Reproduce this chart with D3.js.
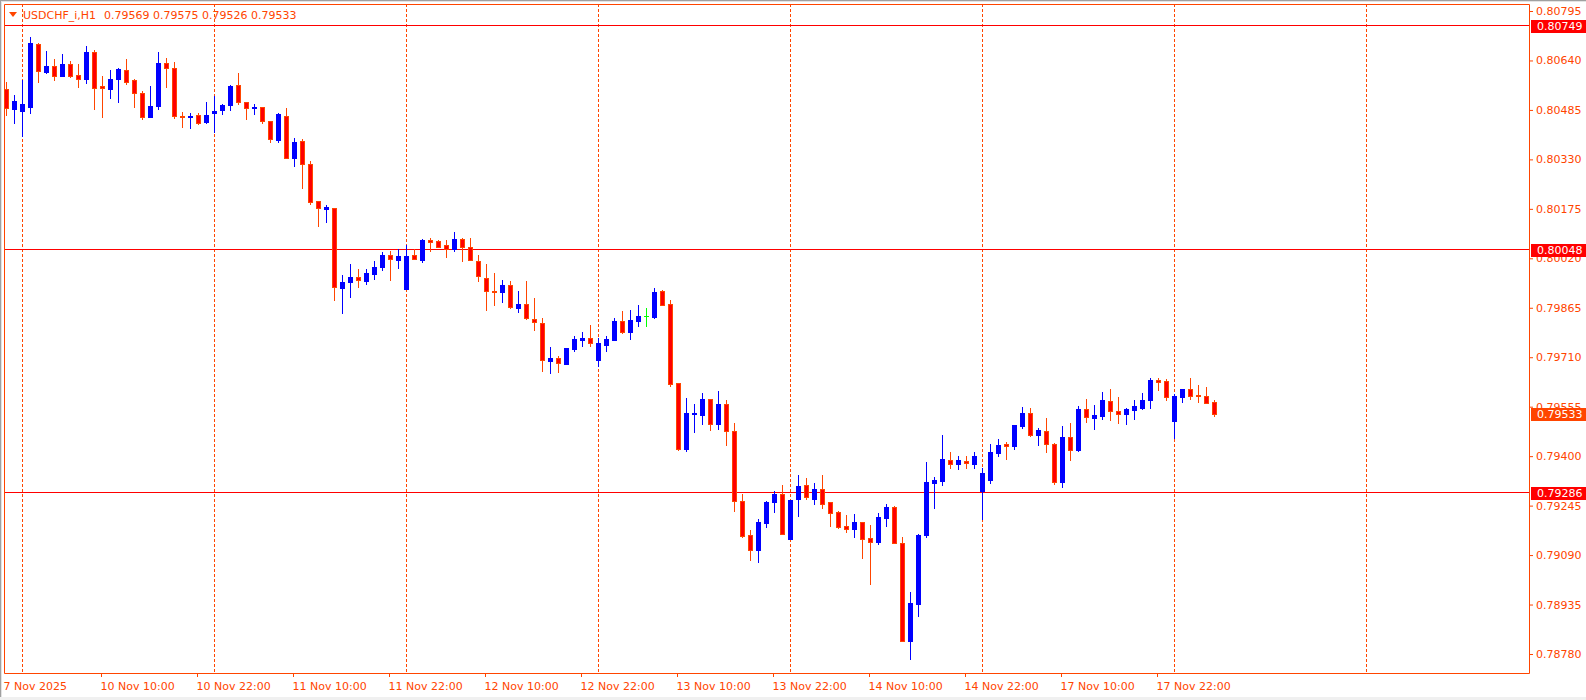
<!DOCTYPE html>
<html><head><meta charset="utf-8">
<script src="https://cdn.jsdelivr.net/npm/d3@7"></script>
<style>html,body{margin:0;padding:0;background:#fff;overflow:hidden}</style>
</head><body><svg id="c" width="1586" height="700"></svg>
<script>
// ---- data ----
const symbolLabel = "USDCHF_i,H1";
const lastOHLC = ["0.79569", "0.79575", "0.79526", "0.79533"];
// trading sessions (day label, first hour, last hour) – hourly bars
const sessions = [["7 Nov",22,23],["10 Nov",0,23],["11 Nov",0,23],["12 Nov",0,23],["13 Nov",0,23],["14 Nov",0,23],["17 Nov",0,23],["18 Nov",0,23],["19 Nov",0,23]];
const openV = [0.80550,0.80489,0.80483,0.80495,0.80692,0.80604,0.80623,0.80592,0.80629,0.80594,0.80583,0.80667,0.80560,0.80552,0.80583,0.80610,0.80579,0.80538,0.80464,0.80498,0.80632,0.80616,0.80466,0.80463,0.80468,0.80448,0.80476,0.80486,0.80501,0.80562,0.80509,0.80491,0.80493,0.80449,0.80391,0.80466,0.80333,0.80388,0.80316,0.80200,0.80175,0.80177,0.79926,0.79947,0.79961,0.79950,0.79972,0.79994,0.80030,0.80016,0.79925,0.80030,0.80015,0.80077,0.80074,0.80061,0.80049,0.80080,0.80054,0.80011,0.79957,0.79918,0.79913,0.79935,0.79865,0.79876,0.79829,0.79817,0.79699,0.79708,0.79690,0.79737,0.79764,0.79769,0.79701,0.79749,0.79764,0.79824,0.79789,0.79824,0.79839,0.79836,0.79918,0.79877,0.79628,0.79423,0.79532,0.79530,0.79579,0.79502,0.79563,0.79478,0.79258,0.79152,0.79107,0.79190,0.79256,0.79282,0.79141,0.79267,0.79309,0.79267,0.79297,0.79255,0.79225,0.79180,0.79173,0.79194,0.79143,0.79131,0.79207,0.79241,0.79127,0.78822,0.78938,0.79153,0.79317,0.79323,0.79387,0.79375,0.79384,0.79376,0.79292,0.79325,0.79411,0.79438,0.79433,0.79495,0.79535,0.79466,0.79479,0.79438,0.79319,0.79461,0.79419,0.79548,0.79520,0.79527,0.79573,0.79541,0.79532,0.79546,0.79551,0.79576,0.79639,0.79636,0.79510,0.79585,0.79610,0.79592,0.79588,0.79569];
const highV = [0.80573,0.80532,0.80579,0.80714,0.80694,0.80670,0.80645,0.80660,0.80637,0.80629,0.80685,0.80673,0.80591,0.80610,0.80617,0.80645,0.80582,0.80544,0.80561,0.80667,0.80648,0.80635,0.80479,0.80474,0.80474,0.80510,0.80530,0.80504,0.80563,0.80601,0.80509,0.80504,0.80493,0.80449,0.80475,0.80491,0.80397,0.80394,0.80325,0.80200,0.80187,0.80177,0.79968,0.80002,0.79987,0.79987,0.80012,0.80040,0.80043,0.80048,0.80061,0.80048,0.80080,0.80085,0.80077,0.80077,0.80102,0.80084,0.80084,0.80030,0.80002,0.79974,0.79952,0.79949,0.79918,0.79949,0.79896,0.79834,0.79742,0.79714,0.79739,0.79777,0.79789,0.79811,0.79770,0.79777,0.79833,0.79855,0.79858,0.79874,0.79864,0.79927,0.79921,0.79889,0.79628,0.79582,0.79563,0.79598,0.79579,0.79603,0.79575,0.79504,0.79282,0.79170,0.79203,0.79258,0.79290,0.79311,0.79263,0.79341,0.79332,0.79316,0.79341,0.79255,0.79229,0.79217,0.79220,0.79194,0.79184,0.79222,0.79250,0.79244,0.79147,0.78974,0.79155,0.79382,0.79335,0.79466,0.79413,0.79401,0.79401,0.79413,0.79364,0.79438,0.79454,0.79444,0.79498,0.79554,0.79551,0.79488,0.79520,0.79440,0.79495,0.79504,0.79557,0.79579,0.79560,0.79601,0.79610,0.79585,0.79551,0.79576,0.79598,0.79645,0.79645,0.79642,0.79595,0.79610,0.79645,0.79623,0.79617,0.79575];
const lowV = [0.80469,0.80445,0.80403,0.80474,0.80573,0.80602,0.80580,0.80592,0.80589,0.80558,0.80570,0.80488,0.80464,0.80523,0.80511,0.80566,0.80495,0.80456,0.80464,0.80487,0.80558,0.80461,0.80431,0.80429,0.80442,0.80445,0.80416,0.80472,0.80486,0.80504,0.80457,0.80473,0.80445,0.80385,0.80385,0.80333,0.80310,0.80241,0.80191,0.80122,0.80135,0.79888,0.79848,0.79900,0.79931,0.79940,0.79955,0.79984,0.79952,0.79991,0.79925,0.80017,0.80009,0.80044,0.80054,0.80025,0.80044,0.80012,0.80014,0.79950,0.79859,0.79875,0.79884,0.79865,0.79853,0.79831,0.79795,0.79668,0.79662,0.79665,0.79690,0.79729,0.79746,0.79746,0.79683,0.79729,0.79764,0.79787,0.79767,0.79808,0.79808,0.79834,0.79875,0.79620,0.79420,0.79417,0.79477,0.79502,0.79483,0.79486,0.79436,0.79229,0.79146,0.79075,0.79069,0.79179,0.79225,0.79155,0.79141,0.79213,0.79267,0.79251,0.79238,0.79182,0.79176,0.79163,0.79148,0.79082,0.79000,0.79126,0.79182,0.79127,0.78822,0.78765,0.78900,0.79148,0.79238,0.79311,0.79364,0.79361,0.79364,0.79364,0.79203,0.79316,0.79401,0.79391,0.79422,0.79488,0.79463,0.79435,0.79414,0.79314,0.79304,0.79388,0.79417,0.79507,0.79485,0.79517,0.79513,0.79504,0.79501,0.79516,0.79548,0.79551,0.79608,0.79577,0.79457,0.79570,0.79579,0.79570,0.79568,0.79526];
const closeV = [0.80490,0.80513,0.80504,0.80695,0.80608,0.80623,0.80592,0.80629,0.80592,0.80583,0.80667,0.80555,0.80555,0.80582,0.80613,0.80573,0.80537,0.80462,0.80497,0.80632,0.80615,0.80466,0.80464,0.80467,0.80445,0.80469,0.80482,0.80500,0.80560,0.80509,0.80490,0.80494,0.80449,0.80393,0.80472,0.80333,0.80384,0.80315,0.80197,0.80177,0.80181,0.79929,0.79945,0.79961,0.79951,0.79974,0.79993,0.80030,0.80017,0.80027,0.80027,0.80017,0.80077,0.80072,0.80056,0.80049,0.80080,0.80054,0.80014,0.79964,0.79917,0.79913,0.79935,0.79868,0.79876,0.79834,0.79820,0.79700,0.79708,0.79691,0.79739,0.79767,0.79770,0.79754,0.79755,0.79767,0.79824,0.79789,0.79827,0.79839,0.79839,0.79914,0.79875,0.79626,0.79423,0.79535,0.79536,0.79579,0.79502,0.79563,0.79478,0.79258,0.79151,0.79107,0.79193,0.79256,0.79281,0.79155,0.79263,0.79306,0.79271,0.79297,0.79251,0.79223,0.79179,0.79173,0.79194,0.79141,0.79130,0.79209,0.79241,0.79127,0.78822,0.78940,0.79153,0.79319,0.79325,0.79391,0.79375,0.79387,0.79378,0.79401,0.79347,0.79413,0.79435,0.79431,0.79498,0.79535,0.79466,0.79482,0.79437,0.79319,0.79461,0.79420,0.79548,0.79522,0.79529,0.79576,0.79542,0.79533,0.79548,0.79557,0.79576,0.79639,0.79633,0.79585,0.79588,0.79610,0.79589,0.79588,0.79568,0.79533];
const priceTicks = [0.80795,0.80640,0.80485,0.80330,0.80175,0.80020,0.79865,0.79710,0.79555,0.79400,0.79245,0.79090,0.78935,0.78780];
const levelLines = [0.80749, 0.80048, 0.79286];
const currentPrice = 0.79533;
const tickTimes = ["7 Nov 22:00","10 Nov 10:00","10 Nov 22:00","11 Nov 10:00","11 Nov 22:00","12 Nov 10:00","12 Nov 22:00","13 Nov 10:00","13 Nov 22:00","14 Nov 10:00","14 Nov 22:00","17 Nov 10:00","17 Nov 22:00"];
const tickLabels = ["7 Nov 2025","10 Nov 10:00","10 Nov 22:00","11 Nov 10:00","11 Nov 22:00","12 Nov 10:00","12 Nov 22:00","13 Nov 10:00","13 Nov 22:00","14 Nov 10:00","14 Nov 22:00","17 Nov 10:00","17 Nov 22:00"];

// ---- build ----
const times = [];
sessions.forEach(([d,a,b]) => { for (let h=a; h<=b; h++) times.push(d + " " + String(h).padStart(2,"0") + ":00"); });
const bars = openV.map((o,i) => ({t: times[i], o, h: highV[i], l: lowV[i], c: closeV[i]}));

const FG = "#FF4500", BULL = "#0000FF", BEAR_FILL = "#FF0000", DOJI = "#00FF00";
const FONT = "DejaVu Sans, sans-serif";
const L = 4, T = 4, R = 1529, B = 673;

const svg = d3.select("#c");
svg.append("rect").attr("width",1586).attr("height",700).attr("fill","#fff");
// window frame
svg.append("rect").attr("x",0).attr("y",0).attr("width",1586).attr("height",1).attr("fill","#a0a0a0");
svg.append("rect").attr("x",0).attr("y",1).attr("width",1586).attr("height",1).attr("fill","#e3e3e3");
svg.append("rect").attr("x",0).attr("y",0).attr("width",1).attr("height",700).attr("fill","#a0a0a0");
svg.append("rect").attr("x",1).attr("y",1).attr("width",1).attr("height",699).attr("fill","#e3e3e3");
svg.append("rect").attr("x",0).attr("y",697).attr("width",1586).attr("height",3).attr("fill","#f0f0f0");

const x = d3.scaleBand().domain(times).range([1.5, 1.5 + 8*times.length]).padding(0);
const cx = t => Math.round(x(t) + x.bandwidth()/2) + 0.5;
const y = d3.scaleLinear().domain([0.78780, 0.80795]).range([654, 11]);

svg.append("defs").append("clipPath").attr("id","plot").append("rect")
  .attr("x",L+1).attr("y",T+1).attr("width",R-L-1).attr("height",B-T-1);
const plot = svg.append("g").attr("clip-path","url(#plot)");

// vertical day grid lines
plot.selectAll("line.grid").data(times.filter(t => t.endsWith(" 00:00"))).join("line")
  .attr("x1",cx).attr("x2",cx).attr("y1",T).attr("y2",B)
  .attr("stroke",FG).attr("stroke-width",1).attr("stroke-dasharray","3,2");

// horizontal level lines
plot.selectAll("line.lvl").data(levelLines).join("line")
  .attr("x1",L).attr("x2",R).attr("y1",d=>Math.floor(y(d))+0.5).attr("y2",d=>Math.floor(y(d))+0.5)
  .attr("stroke","#FF0000").attr("stroke-width",1);

// candles
const cg = plot.append("g");
bars.forEach(b => {
  const c = cx(b.t);
  const bull = b.c > b.o, doji = b.c === b.o;
  const col = doji ? DOJI : (bull ? BULL : FG);
  const yh = Math.round(y(b.h)), yl = Math.round(y(b.l));
  cg.append("line").attr("x1",c).attr("x2",c).attr("y1",yh).attr("y2",yl+1)
    .attr("stroke",col).attr("stroke-width",1);
  const yt = Math.round(y(Math.max(b.o,b.c))), yb = Math.round(y(Math.min(b.o,b.c)));
  if (doji) {
    cg.append("line").attr("x1",c-2.5).attr("x2",c+2.5).attr("y1",yt+0.5).attr("y2",yt+0.5)
      .attr("stroke",DOJI).attr("stroke-width",1);
  } else if (bull) {
    cg.append("rect").attr("x",c-2.5).attr("y",yt).attr("width",5).attr("height",Math.max(1,yb-yt+1))
      .attr("fill",BULL);
  } else {
    cg.append("rect").attr("x",c-2).attr("y",yt+0.5).attr("width",4).attr("height",Math.max(0,yb-yt))
      .attr("fill",BEAR_FILL).attr("stroke",FG).attr("stroke-width",1);
  }
});

// border
svg.append("path").attr("d",`M${L+0.5},${B+0.5}V${T+0.5}H${R+0.5}V${B+0.5}H${L+0.5}`)
  .attr("fill","none").attr("stroke",FG).attr("stroke-width",1);

// right axis
const ya = svg.append("g").attr("transform",`translate(${R},0)`)
  .call(d3.axisRight(y).tickValues(priceTicks).tickSize(4).tickPadding(3).tickFormat(d3.format(".5f")));
ya.select(".domain").remove();
ya.selectAll("line").attr("stroke",FG);
ya.selectAll("text").attr("fill",FG).attr("font-family",FONT).attr("font-size",11);

// bottom axis
const labelOf = t => tickLabels[tickTimes.indexOf(t)];
const xa = svg.append("g").attr("transform",`translate(0,${B})`)
  .call(d3.axisBottom(x).tickValues(tickTimes).tickSize(4).tickPadding(5).tickFormat(labelOf));
xa.select(".domain").remove();
xa.selectAll("line").attr("stroke",FG);
xa.selectAll(".tick").filter((d,i)=>i===0).select("line").remove();
xa.selectAll("text").attr("fill",FG).attr("font-family",FONT).attr("font-size",11)
  .attr("text-anchor","start").attr("x",-1);
xa.selectAll(".tick").filter((d,i)=>i===0).select("text").attr("x",-2);

// price labels
const tags = levelLines.map(v => ({v, bg:"#FF0000"})).concat([{v: currentPrice, bg: FG}]);
const tg = svg.append("g");
tags.forEach(d => {
  const yy = Math.floor(y(d.v));
  tg.append("rect").attr("x",R+2).attr("y",yy-5).attr("width",1586-R-2).attr("height",13).attr("fill",d.bg);
  tg.append("text").attr("x",R+8).attr("y",yy+5).attr("fill","#fff").attr("font-family",FONT).attr("font-size",11)
    .text(d3.format(".5f")(d.v));
});

// header
svg.append("path").attr("d","M9,12H17L13,17Z").attr("fill",FG);
svg.append("text").attr("x",23).attr("y",19).attr("fill",FG).attr("font-family",FONT).attr("font-size",11).text(symbolLabel);
svg.append("text").attr("x",104).attr("y",19).attr("fill",FG).attr("font-family",FONT).attr("font-size",11).text(lastOHLC.join(" "));
</script></body></html>
